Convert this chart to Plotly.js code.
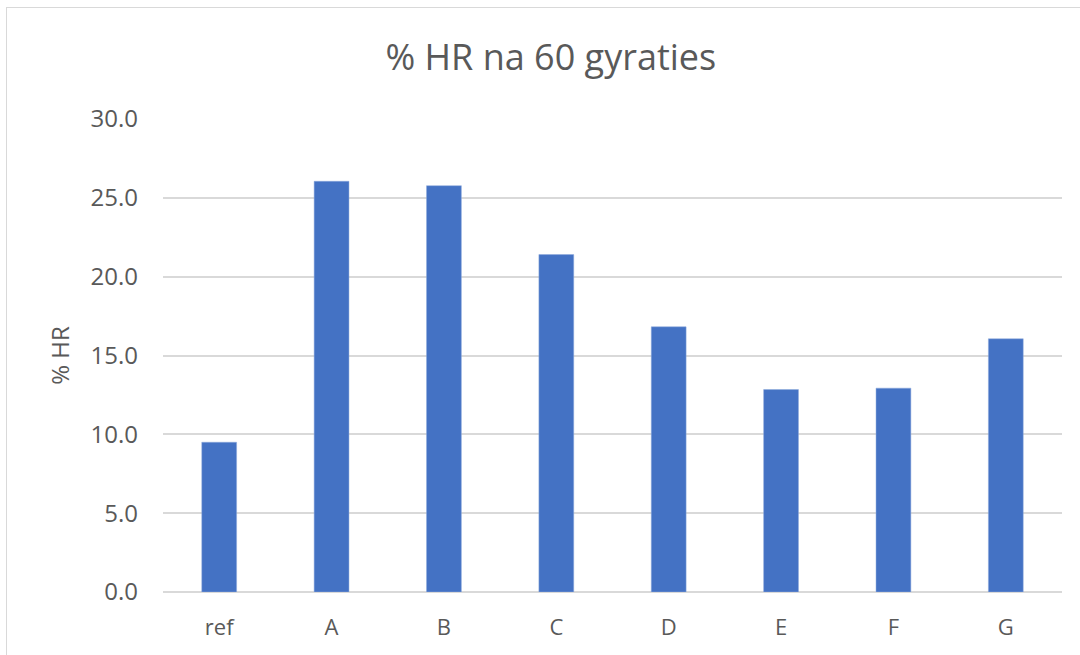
<!DOCTYPE html>
<html>
<head>
<meta charset="utf-8">
<script src="https://cdn.plot.ly/plotly-3.0.1.min.js"></script>
<style>
html,body{margin:0;padding:0;background:#fff;}
#wrap{position:relative;width:1080px;height:655px;overflow:hidden;}
#chart{position:absolute;left:0;top:0;width:1080px;height:655px;}
#frame{position:absolute;left:6px;top:7px;width:1100px;height:700px;border-top:1px solid #d9d9d9;border-left:1px solid #d9d9d9;pointer-events:none;}
</style>
</head>
<body>
<div id="wrap"><div id="chart"></div><div id="frame"></div></div>
<script>
var categories = ["ref", "A", "B", "C", "D", "E", "F", "G"];
var values = [9.5, 26.05, 25.77, 21.4, 16.82, 12.84, 12.93, 16.06];
var yTicks = [0, 5, 10, 15, 20, 25, 30];
var yTickLabels = ["0.0", "5.0", "10.0", "15.0", "20.0", "25.0", "30.0"];

var font = "Open Sans, Liberation Sans, sans-serif";
var grey = "#595959";

Plotly.newPlot("chart", [{
  type: "bar",
  x: categories,
  y: values,
  marker: {color: "#4472C4", line: {color: "#8FAADC", width: 0.5}},
  hoverinfo: "x+y"
}], {
  width: 1080,
  height: 655,
  margin: {l: 163, r: 18, t: 119, b: 63},
  paper_bgcolor: "#fff",
  plot_bgcolor: "#fff",
  bargap: 0.69,
  showlegend: false,
  title: {
    text: "% HR na 60 gyraties",
    font: {family: font, size: 36, color: grey},
    x: 0.51, xanchor: "center",
    y: 0.913, yanchor: "middle"
  },
  xaxis: {
    type: "category",
    showgrid: false,
    zeroline: false,
    showline: false,
    ticks: "",
    tickfont: {family: font, size: 22, color: grey},
    ticklabelstandoff: 20
  },
  yaxis: {
    range: [0, 30],
    tickvals: yTicks,
    ticktext: yTickLabels,
    showgrid: true,
    gridcolor: "#d9d9d9",
    gridwidth: 2,
    zeroline: true,
    zerolinecolor: "#d9d9d9",
    zerolinewidth: 2,
    showline: false,
    ticks: "",
    tickfont: {family: font, size: 24, color: grey},
    ticklabelstandoff: 24,
    title: {text: "% HR", font: {family: font, size: 24, color: grey}, standoff: 14}
  }
}, {displayModeBar: false, staticPlot: true});
</script>
</body>
</html>
